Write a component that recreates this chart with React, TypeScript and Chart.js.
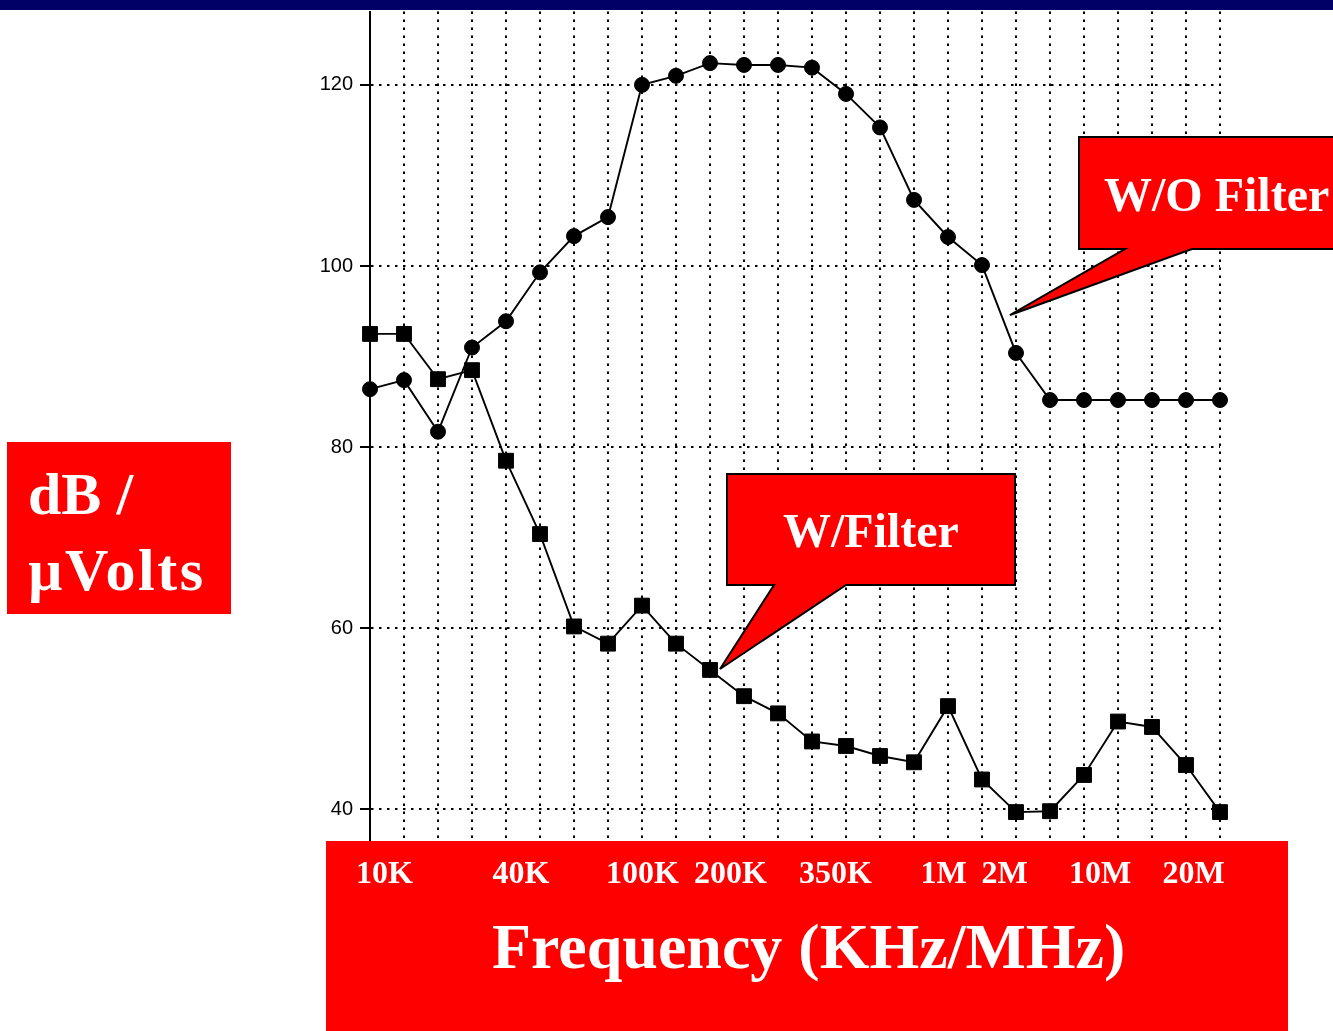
import React, { useEffect, useRef } from "react";
import { Chart, registerables } from "chart.js";

Chart.register(...registerables);

// ---- data ----
const measurementPoints = [
  "1", "2", "3", "4", "5", "6", "7", "8", "9", "10", "11", "12", "13",
  "14", "15", "16", "17", "18", "19", "20", "21", "22", "23", "24", "25", "26",
];
const withoutFilter = [
  86.4, 87.4, 81.7, 91.0, 93.9, 99.3, 103.3, 105.4, 120.0, 121.0, 122.4, 122.2, 122.2,
  121.9, 119.0, 115.3, 107.3, 103.2, 100.1, 90.4, 85.2, 85.2, 85.2, 85.2, 85.2, 85.2,
];
const withFilter = [
  92.5, 92.5, 87.5, 88.5, 78.5, 70.4, 60.2, 58.3, 62.5, 58.3, 55.4, 52.5, 50.6,
  47.5, 47.0, 45.9, 45.2, 51.4, 43.3, 39.7, 39.8, 43.8, 49.7, 49.1, 44.9, 39.7,
];
const yTickValues = [40, 60, 80, 100, 120];
const frequencyLabels = ["10K", "40K", "100K", "200K", "350K", "1M", "2M", "10M", "20M"];
const yAxisTitleLines = ["dB /", "\u00b5Volts"];
const xAxisTitle = "Frequency (KHz/MHz)";
const seriesCallouts = ["W/O Filter", "W/Filter"];

// ---- layout constants ----
const frequencyLabelCenters = [384.5, 521, 642.5, 730.5, 835.5, 943.5, 1004.5, 1100, 1193.5];
const SERIF = "'Liberation Serif', 'Times New Roman', serif";

export default function App() {
  const canvasRef = useRef<HTMLCanvasElement | null>(null);

  useEffect(() => {
    const canvas = canvasRef.current;
    if (!canvas) return;
    const chart = new Chart(canvas, {
      type: "line",
      data: {
        labels: measurementPoints,
        datasets: [
          {
            label: seriesCallouts[0],
            data: withoutFilter,
            borderColor: "#000",
            backgroundColor: "#000",
            borderWidth: 1.9,
            pointStyle: "circle",
            pointRadius: 7.5,
            pointBorderWidth: 1,
            pointBackgroundColor: "#000",
            pointBorderColor: "#000",
            tension: 0,
            clip: false,
          },
          {
            label: seriesCallouts[1],
            data: withFilter,
            borderColor: "#000",
            backgroundColor: "#000",
            borderWidth: 1.9,
            pointStyle: "rect",
            pointRadius: 10.5,
            pointBorderWidth: 1,
            pointBackgroundColor: "#000",
            pointBorderColor: "#000",
            tension: 0,
            clip: false,
          },
        ],
      },
      options: {
        animation: false,
        responsive: false,
        events: [],
        layout: { padding: { left: 300, right: 113, top: 10, bottom: 191 } },
        plugins: {
          legend: { display: false },
          tooltip: { enabled: false },
          title: { display: false },
        },
        scales: {
          x: {
            type: "category",
            offset: false,
            ticks: { display: false },
            grid: {
              color: "#000",
              lineWidth: 2,
              drawTicks: false,
              offset: false,
            },
            border: { display: false, dash: [2.5, 5.5] },
            afterFit: (scale: any) => {
              scale.height = 0;
              scale.paddingLeft = 0;
              scale.paddingRight = 0;
            },
          },
          y: {
            type: "linear",
            min: 36.62,
            max: 128.1,
            afterBuildTicks: (scale: any) => {
              scale.ticks = yTickValues.map((v) => ({ value: v }));
            },
            afterFit: (scale: any) => {
              scale.width = 70;
              scale.paddingTop = 0;
              scale.paddingBottom = 0;
            },
            ticks: {
              color: "#000",
              padding: 7,
              font: { family: "'Liberation Sans', Arial, sans-serif", size: 20 },
            },
            grid: {
              color: "#000",
              lineWidth: 2,
              drawTicks: true,
              tickLength: 10,
              tickColor: "#000",
              tickWidth: 2,
              tickBorderDash: [],
            },
            border: { display: true, color: "#000", width: 2, dash: [2.5, 5.5] },
          },
        },
      } as any,
    });
    return () => chart.destroy();
  }, []);

  return (
    <div
      style={{
        position: "fixed",
        left: 0,
        top: 0,
        width: 1333,
        height: 1031,
        background: "#fff",
        overflow: "hidden",
      }}
    >
      <canvas
        ref={canvasRef}
        width={1333}
        height={1031}
        style={{ position: "absolute", left: 0, top: 0, width: 1333, height: 1031 }}
      />
      <svg
        width={1333}
        height={1031}
        style={{ position: "absolute", left: 0, top: 0 }}
      >
        {/* navy top band */}
        <rect x={0} y={0} width={1333} height={10} fill="#000066" />

        {/* y-axis title box */}
        <rect x={7} y={442} width={224} height={172} fill="#ff0000" />
        <text x={28} y={514} fill="#fff" fontFamily={SERIF} fontWeight="bold" fontSize={60}>
          {yAxisTitleLines[0]}
        </text>
        <text
          x={28}
          y={590}
          fill="#fff"
          fontFamily={SERIF}
          fontWeight="bold"
          fontSize={60}
          textLength={175}
          lengthAdjust="spacing"
        >
          {yAxisTitleLines[1]}
        </text>

        {/* W/O Filter callout */}
        <path
          d="M1079,137 L1345,137 L1345,249 L1192,249 L1010,315 L1125,249 L1079,249 Z"
          fill="#ff0000"
          stroke="#000"
          strokeWidth={2}
          strokeLinejoin="miter"
        />
        <text x={1104} y={211} fill="#fff" fontFamily={SERIF} fontWeight="bold" fontSize={48}>
          {seriesCallouts[0]}
        </text>

        {/* W/Filter callout */}
        <path
          d="M727,474 L1015,474 L1015,585 L846,585 L720,669 L774,585 L727,585 Z"
          fill="#ff0000"
          stroke="#000"
          strokeWidth={2}
          strokeLinejoin="miter"
        />
        <text x={783} y={547} fill="#fff" fontFamily={SERIF} fontWeight="bold" fontSize={48}>
          {seriesCallouts[1]}
        </text>

        {/* x-axis box */}
        <rect x={326} y={841} width={962} height={190} fill="#ff0000" />
        {frequencyLabels.map((lbl, i) => (
          <text
            key={lbl}
            x={frequencyLabelCenters[i]}
            y={883}
            fill="#fff"
            fontFamily={SERIF}
            fontWeight="bold"
            fontSize={32}
            textAnchor="middle"
          >
            {lbl}
          </text>
        ))}
        <text x={492} y={968} fill="#fff" fontFamily={SERIF} fontWeight="bold" fontSize={64}>
          {xAxisTitle}
        </text>
      </svg>
    </div>
  );
}
